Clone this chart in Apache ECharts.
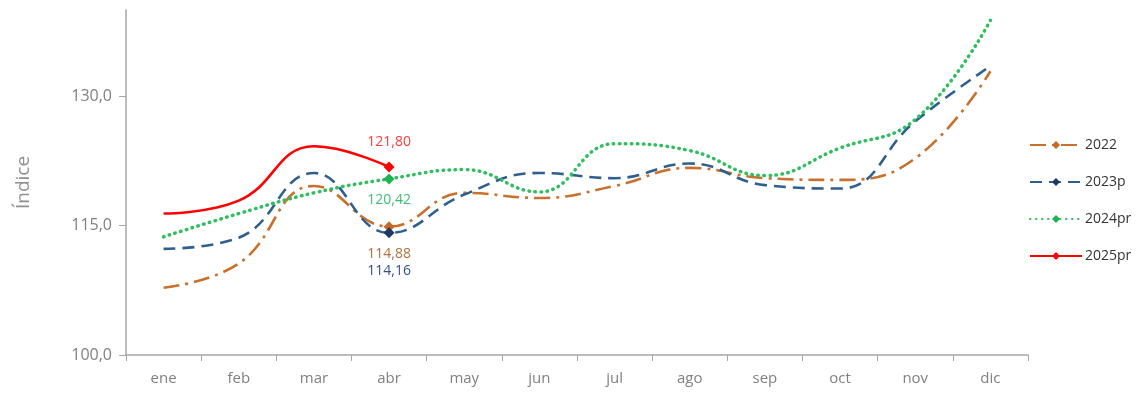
<!DOCTYPE html>
<html>
<head>
<meta charset="utf-8">
<script src="https://cdn.jsdelivr.net/npm/echarts@6/dist/echarts.min.js"></script>
<style>
  html, body { margin: 0; padding: 0; background: #fff; }
  #chart { width: 1144px; height: 407px; }
</style>
</head>
<body>
<div id="chart"></div>
<script>
// datos
const months = ['ene', 'feb', 'mar', 'abr', 'may', 'jun', 'jul', 'ago', 'sep', 'oct', 'nov', 'dic'];
const yTicks = [100, 115, 130];
const s2022 = [107.8, 110.6, 119.6, 114.88, 118.8, 118.2, 119.6, 121.7, 120.5, 120.3, 122.8, 132.9];
const s2023p = [112.3, 113.6, 121.1, 114.16, 118.6, 121.1, 120.5, 122.2, 119.7, 119.3, 127.1, 133.5];
const s2024pr = [113.7, 116.4, 118.8, 120.42, 121.5, 118.9, 124.5, 123.7, 120.8, 124.0, 127.3, 138.8];
const s2025pr = [116.4, 117.9, 124.2, 121.8];
const labelIdx = 3; // abr

const fmt = (v) => v.toFixed(2).replace('.', ',');

// solo el punto de abril lleva marcador y etiqueta
function pts(arr, markColor, labelColor, pos, offsetY) {
  return arr.map((v, i) => {
    if (i !== labelIdx) return { value: v, symbol: 'none' };
    return {
      value: v,
      symbol: 'diamond',
      symbolSize: 11,
      itemStyle: { color: markColor },
      label: {
        show: true,
        position: pos,
        offset: [0, offsetY],
        color: labelColor,
        fontSize: 14,
        fontFamily: 'Open Sans',
        formatter: () => fmt(v),
      },
    };
  });
}

function line(name, data, color, markColor, type, width) {
  return {
    name,
    type: 'line',
    smooth: 0.45,
    symbol: 'diamond',
    symbolSize: 11,
    showSymbol: true,
    itemStyle: { color: markColor },
    lineStyle: { color, type, width, cap: Array.isArray(type) && type[0] < 1 ? 'round' : 'butt' },
    emphasis: { disabled: true },
    data,
    z: name === '2025pr' ? 5 : 3,
  };
}

const chart = echarts.init(document.getElementById('chart'));
chart.setOption({
  animation: false,
  grid: { left: 126, right: 116, top: 10, bottom: 52 },
  legend: {
    orient: 'vertical',
    left: 1024,
    top: 133,
    itemGap: 23,
    itemWidth: 52,
    itemHeight: 10,
    textStyle: { color: '#333', fontSize: 14, fontFamily: 'Open Sans', padding: [0, 0, 0, -2] },
    data: ['2022', '2023p', '2024pr', '2025pr'],
  },
  xAxis: {
    type: 'category',
    data: months,
    boundaryGap: true,
    axisLine: { lineStyle: { color: '#a6a6a6', width: 1.5 } },
    axisTick: { show: true, length: 6, lineStyle: { color: '#a6a6a6' } },
    axisLabel: { color: '#808080', fontSize: 15, margin: 16, fontFamily: 'Open Sans' },
  },
  yAxis: {
    type: 'value',
    min: 100,
    max: 140,
    interval: 15,
    name: 'Índice',
    nameLocation: 'middle',
    nameGap: 93,
    nameRotate: 90,
    nameTextStyle: { color: '#909090', fontSize: 19, fontFamily: 'Open Sans' },
    splitLine: { show: false },
    axisLine: { show: true, lineStyle: { color: '#a6a6a6', width: 1.5 } },
    axisTick: { show: true, length: 7, customValues: yTicks, lineStyle: { color: '#a6a6a6' } },
    axisLabel: {
      color: '#808080',
      fontSize: 16,
      margin: 14,
      fontFamily: 'Open Sans',
      customValues: yTicks,
      formatter: (v) => v.toFixed(1).replace('.', ','),
    },
  },
  series: [
    line('2022', pts(s2022, '#C46A26', '#B0733F', 'bottom', 10), '#C8702C', '#C46A26', [16, 6, 3, 6], 2.6),
    line('2023p', pts(s2023p, '#1F3864', '#34508A', 'bottom', 21), '#2F5F8F', '#1F3864', [12, 7], 2.6),
    line('2024pr', pts(s2024pr, '#1EB455', '#3CC070', 'bottom', 4), '#2DBE5E', '#1EB455', [0.5, 5.5], 3.5),
    line('2025pr', pts(s2025pr, '#FF0000', '#FF3B3B', 'top', -7), '#FF0000', '#FF0000', 'solid', 2.6),
  ],
});
</script>
</body>
</html>
